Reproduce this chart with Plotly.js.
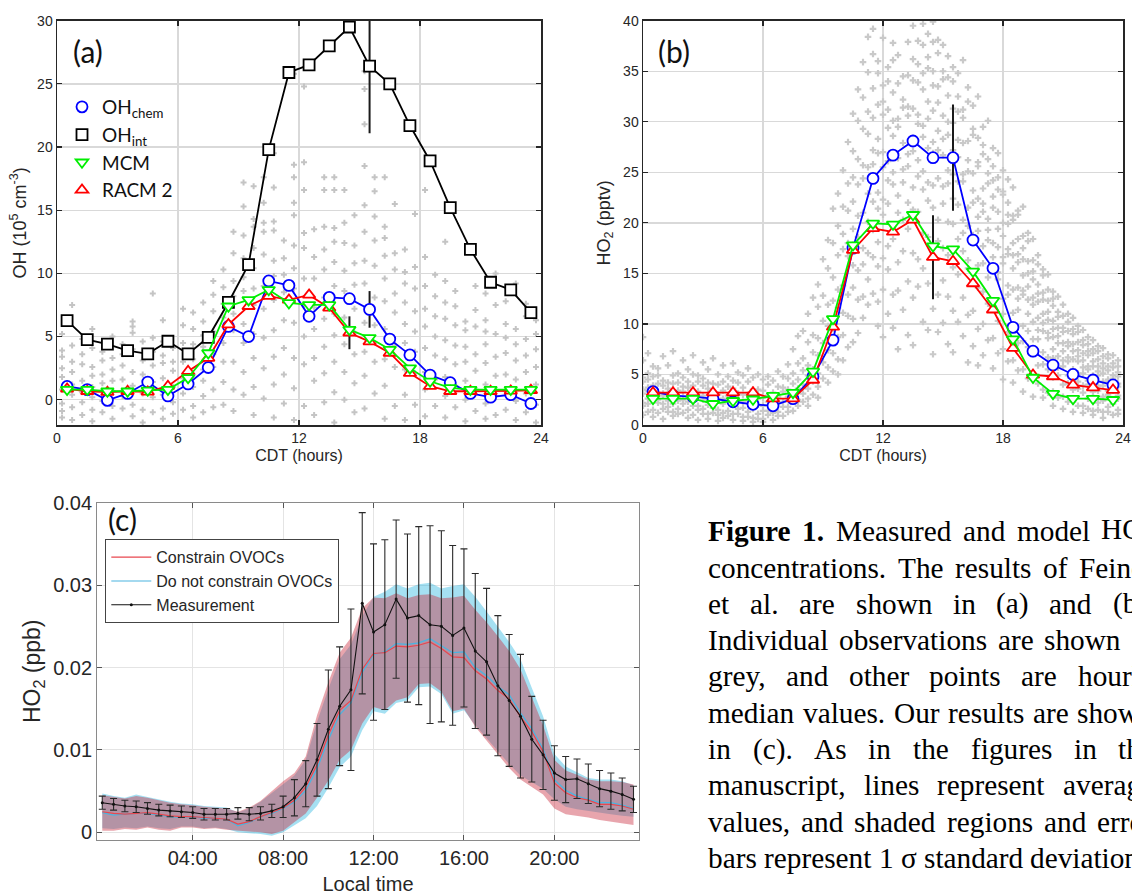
<!DOCTYPE html>
<html>
<head>
<meta charset="utf-8">
<script src="https://cdn.plot.ly/plotly-3.0.1.min.js"></script>
<style>
html,body{margin:0;padding:0;background:#fff;overflow:hidden;}
#chart{width:1132px;height:895px;}
</style>
</head>
<body>
<div id="chart"></div>
<script>
// ---------------- DATA ----------------
const hoursAB = [0.5,1.5,2.5,3.5,4.5,5.5,6.5,7.5,8.5,9.5,10.5,11.5,12.5,13.5,14.5,15.5,16.5,17.5,18.5,19.5,20.5,21.5,22.5,23.5];

// (a) OH, 10^5 cm^-3
const ohChem = [1.05,0.8,-0.05,0.5,1.4,0.3,1.25,2.55,5.8,5.0,9.4,9.05,6.6,8.1,8.0,7.15,4.8,3.55,1.95,1.35,0.5,0.2,0.4,-0.3];
const ohInt  = [6.26,4.76,4.4,3.89,3.63,4.63,3.63,4.94,7.7,10.7,19.8,25.9,26.5,28.0,29.5,26.4,25.0,21.7,18.9,15.2,11.9,9.3,8.7,6.9];
const ohMCM  = [0.8,0.8,0.67,0.67,0.74,0.8,1.73,3.7,7.4,7.9,8.7,7.66,7.5,7.5,5.55,4.9,3.97,2.5,1.46,0.94,0.8,0.8,0.8,0.8];
const ohRACM = [0.86,0.67,0.6,0.67,0.62,1.07,2.26,3.3,5.95,7.4,8.2,7.9,8.3,7.27,5.3,4.6,3.7,2.1,1.07,0.67,0.67,0.67,0.7,0.75];
const ohIntErr  = [null,null,null,null,null,null,null,null,null,null,null,null,null,null,null,5.3,null,null,null,null,null,null,null,null];
const ohChemErr = [null,null,null,null,null,null,null,null,null,null,null,null,null,null,null,1.45,null,null,null,null,null,null,null,null];
const ohRACMErr = [null,null,null,null,null,null,null,null,null,null,null,null,null,null,1.3,null,null,null,null,null,null,null,null,null];

// (a) individual OH observations (grey), grouped by time column
const greyATimes = [0.25,0.75,1.25,1.75,2.25,2.75,3.25,3.75,4.25,4.75,5.25,5.75,6.25,6.75,7.25,7.75,8.25,8.75,9.25,9.75,10.25,10.75,11.25,11.75,12.25,12.75,13.25,13.75,14.25,14.75,15.25,15.75,16.25,16.75,17.25,17.75,18.25,18.75,19.25,19.75,20.25,20.75,21.25,21.75,22.25,22.75,23.25,23.75];
const greyAValues = [
 [5.2,3.9,3.4,2.5,1.8,0.8,-0.3,-0.9,-1.4],
 [7.5,4.3,3.0,2.2,1.2,0.4,-0.6,-1.6],
 [4.8,3.6,2.8,1.5,0.6,-0.2,-1.2],
 [5.6,4.1,2.6,1.9,1.0,0.2,-0.8,-1.7],
 [3.8,3.1,2.0,1.3,-0.1,-1.0],
 [5.0,3.3,2.4,1.5,0.7,-0.5,-1.5],
 [4.4,3.6,2.7,1.6,0.3,-0.7],
 [6.2,5.8,5.3,4.0,2.2,1.1,-0.4,-1.3],
 [4.6,3.1,2.0,0.5,-0.8,-1.8],
 [8.4,4.9,3.8,2.7,1.4,0.2,-1.0],
 [6.3,4.6,3.5,2.9,1.7,0.4,-0.7,-1.5],
 [4.1,3.0,2.3,1.0,-0.2,-1.1],
 [7.2,5.9,4.5,3.0,1.7,0.5,-0.8],
 [6.9,5.6,4.4,3.2,2.0,1.0,-0.5,-1.4],
 [7.7,6.2,5.1,4.2,2.4,1.5,0.3,-1.0],
 [9.4,8.3,7.0,5.4,3.6,2.6,0.8,-0.6],
 [10.3,8.9,7.6,6.5,4.5,3.0,1.4,-0.4],
 [13.3,11.6,9.4,8.2,6.8,5.5,3.0,0.8,-0.9],
 [17.2,15.3,13.0,11.2,9.7,8.6,6.0,4.5,2.2,0.4],
 [16.9,14.3,13.7,12.0,10.4,8.8,7.5,5.2,3.3,1.0,-1.2],
 [17.6,15.6,14.0,13.3,11.5,9.0,7.2,4.9,2.5,0.1],
 [19.5,16.8,14.1,13.4,11.0,9.8,7.9,5.5,3.4,1.2,-1.4],
 [12.6,11.2,9.9,8.5,6.3,4.1,2.0,-0.3],
 [25.8,18.6,17.6,15.6,14.6,12.2,10.4,8.8,6.1,3.3,0.9,-1.6],
 [24.8,18.8,16.6,13.2,12.0,9.6,7.5,5.0,2.8,-0.5],
 [13.5,11.3,9.6,7.3,5.6,3.3,1.5,-1.2],
 [17.6,16.6,13.7,11.9,10.3,8.1,6.4,4.2,2.1,-0.2],
 [17.6,16.6,13.6,12.5,10.9,9.0,6.8,5.1,3.0,0.6,-1.8],
 [16.6,14.0,12.4,10.2,8.6,6.5,4.4,2.2,0.0],
 [14.6,12.2,10.8,9.1,7.2,5.3,3.6,1.3,-1.0],
 [26.0,24.6,21.8,18.5,15.4,13.3,11.0,9.2,6.1,3.8,1.9,-0.7],
 [17.6,16.5,14.5,12.6,10.6,8.1,5.9,3.0,0.5],
 [17.6,13.7,12.8,11.4,9.6,7.8,5.6,3.2,1.1,-1.5],
 [15.5,11.6,10.3,8.4,6.9,4.3,2.6,-0.5],
 [11.9,10.1,9.2,7.7,6.0,4.5,2.4,0.4,-1.6],
 [14.7,10.5,8.8,7.0,5.4,3.8,2.1,-0.4],
 [16.6,11.3,9.0,7.2,5.8,4.1,2.2,0.8,-1.3],
 [9.9,8.2,6.6,5.0,3.5,1.6,-0.5],
 [12.5,9.4,7.7,6.4,4.7,3.2,1.8,0.3,-1.4],
 [8.6,7.4,5.9,4.3,2.8,1.1,-0.6],
 [6.2,5.5,4.2,3.0,1.5,0.0,-1.7],
 [9.0,7.1,5.8,3.6,2.3,0.8,-0.9],
 [8.4,6.3,5.4,4.4,2.9,1.2,-0.3,-1.5],
 [10.0,7.5,5.2,3.4,1.9,0.3,-1.2],
 [7.8,6.0,4.9,3.7,2.0,0.7,-0.8],
 [9.2,5.6,4.4,3.1,1.6,-0.1,-1.6],
 [7.6,6.6,4.8,3.5,2.2,0.5,-1.0],
 [6.3,5.2,4.0,2.6,1.2,-0.4,-1.8]
];

// (b) HO2, pptv
const ho2Chem = [3.3,2.9,2.8,2.6,2.3,2.05,1.9,2.6,4.8,8.4,17.5,24.4,26.7,28.1,26.45,26.45,18.3,15.5,9.66,7.3,5.93,5.0,4.45,3.96];
const ho2MCM  = [2.6,2.6,2.6,2.1,2.4,2.55,2.9,3.2,5.3,10.5,17.8,19.95,19.85,20.8,17.7,17.4,15.2,12.3,8.5,4.7,3.1,2.6,2.6,2.5];
const ho2RACM = [3.2,3.2,3.2,3.2,3.2,3.2,2.6,2.6,4.45,9.7,17.3,19.45,19.1,20.3,16.6,16.2,14.0,11.4,7.6,4.95,4.8,3.96,3.7,3.46];
const ho2ChemErr = [null,null,null,null,null,null,null,null,null,null,null,null,null,null,null,5.25,null,null,null,null,null,null,null,null];
const ho2RACMErr = [null,null,null,null,null,null,null,null,null,null,null,null,null,null,4.15,null,null,null,null,null,null,null,null,null];

// (b) individual HO2 observations (grey)
const greyBTimes = [0,0.25,0.5,0.75,1,1.25,1.5,1.75,2,2.25,2.5,2.75,3,3.25,3.5,3.75,4,4.25,4.5,4.75,5,5.25,5.5,5.75,6,6.25,6.5,6.75,7,7.25,7.5,7.75,8,8.25,8.5,8.75,9,9.25,9.5,9.75,10,10.25,10.5,10.75,11,11.25,11.5,11.75,12,12.25,12.5,12.75,13,13.25,13.5,13.75,14,14.25,14.5,14.75,15,15.25,15.5,15.75,16,16.25,16.5,16.75,17,17.25,17.5,17.75,18,18.25,18.5,18.75,19,19.25,19.5,19.75,20,20.25,20.5,20.75,21,21.25,21.5,21.75,22,22.25,22.5,22.75,23,23.25,23.5,23.75];
const greyBValues = [
 [8.7,6.4,4.7,4.3,3.5,3.1,2.2,1.9,1.0],
 [7.1,5.1,4.5,3.7,3.4,2.6,2.1,1.3],
 [5.8,4.8,3.9,3.6,2.8,2.4,1.5,0.8],
 [5.6,4.9,4.1,3.2,2.5,2.2,1.2],
 [6.8,4.4,3.9,3.1,2.9,2.1,1.6,0.6],
 [5.9,4.2,3.6,3.1,2.4,1.8,1.3],
 [7.3,4.9,4.1,3.3,2.6,2.1,1.3,0.9],
 [5.1,4.2,3.4,2.8,2.4,1.6,1.1],
 [6.4,4.7,3.8,3.3,2.5,2.1,1.2],
 [5.5,4.3,3.7,2.7,2.3,1.5,0.7],
 [6.9,5.0,3.9,3.4,2.4,1.9,1.0],
 [4.9,4.3,3.3,2.8,1.9,1.5,0.5],
 [6.2,4.6,3.9,2.9,2.5,1.6,1.1],
 [5.5,4.2,3.6,2.5,2.0,1.1,0.6],
 [6.6,4.1,3.1,2.6,1.7,1.2],
 [5.0,4.0,3.0,2.5,1.5,1.0,0.4],
 [5.9,4.3,3.4,2.6,2.1,1.2,0.7],
 [4.8,3.8,2.9,2.4,1.4,0.9],
 [6.1,4.4,3.6,2.5,2.0,1.1,0.5],
 [5.2,4.2,3.1,2.3,1.6,1.1],
 [4.9,3.7,3.0,2.3,1.7,0.8,0.4],
 [5.6,4.3,3.0,2.4,1.3,0.8],
 [4.7,3.5,2.9,2.0,1.6,0.7,0.3],
 [5.0,3.5,2.6,2.0,1.1,0.6],
 [4.5,3.4,2.7,1.9,1.4,0.6,0.3],
 [4.8,4.0,2.9,2.3,1.4,1.0],
 [4.4,3.2,2.6,1.7,1.2,0.5],
 [5.3,3.8,2.8,2.2,1.3,0.9],
 [4.8,3.7,3.3,2.3,1.8,0.9],
 [6.0,4.6,3.5,2.8,1.8,1.3],
 [7.5,5.1,4.1,3.0,2.4,1.4],
 [8.8,6.1,4.5,3.6,2.5,1.9],
 [9.3,6.6,5.4,4.0,3.1,2.3],
 [11.0,8.2,5.9,4.9,3.6,2.6,1.9],
 [12.6,8.9,7.2,5.5,4.3,3.0],
 [13.9,11.7,8.6,6.9,5.1,3.8,2.7],
 [16.4,12.8,10.3,8.1,6.2,4.6],
 [18.3,15.5,11.9,9.8,7.4,5.7,4.2],
 [21.4,18.0,14.6,12.3,9.5,7.1,5.3],
 [22.9,19.7,16.8,13.4,11.6,8.7,6.5,5.0],
 [25.2,21.6,18.9,17.4,13.8,11.1,8.9,6.4],
 [28.0,23.9,21.2,18.0,16.7,12.9,10.8,7.7],
 [30.8,27.1,24.5,22.1,19.4,15.8,13.6,10.5,8.2],
 [33.2,30.1,26.3,23.8,20.7,18.6,15.3,12.4,9.1],
 [35.9,32.4,29.3,25.7,24.4,21.0,17.5,15.9,12.7,10.6],
 [38.4,34.9,31.0,28.8,25.5,22.9,20.1,17.0,14.4,11.9],
 [39.2,36.7,33.3,30.4,27.2,25.8,22.1,19.3,16.6,13.0],
 [36.0,34.8,31.7,28.3,26.9,23.0,21.4,18.1,15.7,12.2,9.8],
 [38.3,33.6,32.0,30.7,27.0,25.5,22.3,20.8,16.5,13.4,8.7],
 [35.4,34.0,31.2,29.4,26.1,24.2,21.9,17.7,15.4,11.0],
 [37.8,36.1,32.9,30.1,28.6,25.0,23.8,19.6,18.4,12.9,9.6],
 [36.6,33.8,30.3,29.5,26.4,22.7,21.0,16.1,13.3,7.5],
 [34.5,32.2,31.4,27.9,25.3,24.0,20.3,17.2,11.4],
 [37.9,34.6,31.5,30.6,26.8,25.6,22.0,19.4,14.2,8.9],
 [39.5,36.2,34.1,31.3,28.4,27.1,23.5,21.3,17.0,12.6,7.9],
 [38.0,35.7,33.9,30.7,29.8,26.2,24.6,21.1,16.4,13.7],
 [39.7,37.6,34.8,33.2,29.6,28.5,25.1,23.3,19.0,15.5,10.2],
 [38.7,36.4,35.3,32.0,30.3,27.4,24.0,22.2,18.6,14.0,9.4],
 [39.9,37.9,35.0,33.6,31.1,28.0,26.9,23.7,21.5,16.8,11.5,7.0],
 [38.1,36.8,33.5,31.9,29.1,27.2,24.4,20.3,18.2,12.9,9.2],
 [37.6,35.0,34.2,30.6,28.3,26.7,23.6,21.9,17.5,14.3,10.1],
 [36.5,34.4,32.6,30.0,28.7,25.2,23.9,20.1,16.8,12.7,8.0],
 [35.4,34.0,31.3,29.9,27.2,24.8,22.4,19.9,15.6,11.3,7.2],
 [34.8,32.5,31.0,28.2,26.5,24.1,21.8,18.4,14.9,10.2],
 [36.1,31.2,30.4,27.9,24.8,24.1,20.3,19.0,17.2,12.6,8.8],
 [33.4,32.0,28.1,26.2,25.1,21.5,19.7,16.3,15.5,10.9,6.2],
 [31.6,29.3,28.7,24.9,23.2,22.0,18.8,18.1,14.1,11.3,7.8],
 [32.5,28.4,26.0,25.6,22.4,20.6,19.2,15.8,13.6,9.5,5.9],
 [29.5,27.7,26.8,23.4,21.9,21.1,17.7,16.0,13.2,10.0,6.9],
 [30.1,26.3,24.9,23.9,20.4,19.3,18.3,14.6,12.0,8.4],
 [27.4,25.6,24.2,22.6,21.5,18.0,16.6,15.4,11.4,8.6,5.6],
 [26.9,24.5,23.3,21.1,19.4,17.6,15.1,14.4,10.3,7.1],
 [25.2,23.1,22.8,20.0,18.7,16.6,16.0,12.5,11.0,7.5,4.5],
 [24.3,22.0,20.8,19.9,17.4,16.9,13.8,12.9,9.2,6.3],
 [23.5,20.7,20.3,18.0,16.8,15.5,13.4,11.1,9.6,6.4,4.2],
 [21.2,20.8,18.4,16.9,16.1,13.6,12.5,11.4,8.1,5.4],
 [21.6,18.7,17.5,16.4,14.8,13.3,12.9,9.8,8.3,5.5,3.3],
 [19.0,18.2,16.2,15.0,13.7,12.4,11.0,9.3,7.7,4.6],
 [18.4,16.3,15.2,14.4,12.6,11.9,10.2,8.5,7.0,4.8,2.8],
 [16.8,15.9,13.9,13.0,12.2,10.6,9.4,8.5,5.9,4.1],
 [15.4,14.8,13.1,12.4,11.0,10.1,9.3,7.2,6.0,3.5,2.7],
 [14.9,13.4,12.3,11.2,10.4,9.1,8.6,6.7,5.5,3.2],
 [13.2,12.5,11.8,10.3,9.5,8.7,7.5,6.6,4.7,3.3,1.9],
 [12.7,11.2,10.7,9.6,8.8,8.1,6.8,5.7,4.9,2.7],
 [11.9,10.8,9.6,9.2,8.1,7.3,6.4,5.8,4.0,2.8,1.6],
 [11.0,10.2,9.3,8.2,7.8,6.7,6.3,4.9,4.1,2.3],
 [10.6,9.5,9.0,8.0,7.3,6.5,5.5,5.0,3.5,2.3,1.3],
 [9.8,9.2,8.2,7.4,6.8,6.3,5.1,4.3,3.6,1.9],
 [9.4,8.4,7.9,7.1,6.4,5.7,5.1,3.9,3.2,1.9,1.2],
 [8.7,8.0,7.3,6.9,5.8,5.5,4.4,4.0,2.6,1.6],
 [8.4,7.5,7.1,6.3,5.8,4.9,4.5,3.3,2.8,1.4,1.0],
 [7.8,7.3,6.5,5.8,5.3,4.9,3.9,3.4,2.2,1.5],
 [7.6,6.8,6.1,5.6,5.1,4.3,3.9,2.8,2.4,1.3,0.7],
 [7.0,6.6,5.8,5.4,4.5,4.3,3.4,3.0,1.8,1.3],
 [6.9,6.1,5.7,4.9,4.6,3.7,3.4,2.4,2.1,1.0],
 [6.4,5.8,5.2,4.8,4.1,3.8,2.9,2.6,1.5,1.1]
];

// (c) half-hourly, HO2 ppb
const hoursC = [0,0.5,1,1.5,2,2.5,3,3.5,4,4.5,5,5.5,6,6.5,7,7.5,8,8.5,9,9.5,10,10.5,11,11.5,12,12.5,13,13.5,14,14.5,15,15.5,16,16.5,17,17.5,18,18.5,19,19.5,20,20.5,21,21.5,22,22.5,23,23.5];
const constrainMean = [0.0025,0.0023,0.0022,0.0023,0.0024,0.0022,0.0020,0.0019,0.0019,0.0018,0.0017,0.0016,0.0010,0.0013,0.0019,0.0024,0.0030,0.0039,0.0055,0.0082,0.0118,0.0148,0.0160,0.0198,0.0217,0.0218,0.0226,0.0225,0.0227,0.0231,0.0223,0.0213,0.0212,0.0196,0.0186,0.0172,0.0162,0.0140,0.0122,0.0098,0.0060,0.0048,0.0042,0.0039,0.0034,0.0034,0.0032,0.0028];
const constrainUpper = [0.0045,0.0043,0.0041,0.0044,0.0042,0.0039,0.0036,0.0034,0.0033,0.0031,0.0030,0.0029,0.0025,0.0030,0.0038,0.0050,0.0062,0.0072,0.0092,0.0142,0.0182,0.0218,0.0236,0.0272,0.0285,0.0284,0.0290,0.0284,0.0288,0.0289,0.0284,0.0285,0.0287,0.0270,0.0255,0.0238,0.0220,0.0198,0.0165,0.0130,0.0088,0.0075,0.0070,0.0064,0.0062,0.0062,0.0061,0.0058];
const constrainLower = [0.0002,0.0002,0.0004,0.0003,0.0006,0.0003,0.0002,0.0006,0.0006,0.0004,0.0005,0.0003,0.0002,0.0001,0.0000,-0.0002,0.0002,0.0012,0.0023,0.0042,0.0063,0.0088,0.0100,0.0132,0.0152,0.0148,0.0160,0.0164,0.0180,0.0181,0.0171,0.0147,0.0150,0.0128,0.0111,0.0095,0.0078,0.0064,0.0055,0.0046,0.0029,0.0022,0.0020,0.0018,0.0015,0.0013,0.0011,0.0009];
const freeMean = [0.0024,0.0021,0.0022,0.0023,0.0023,0.0021,0.0019,0.0018,0.0019,0.0017,0.0017,0.0016,0.0008,0.0012,0.0019,0.0023,0.0029,0.0037,0.0051,0.0077,0.0112,0.0143,0.0157,0.0194,0.0216,0.0219,0.0229,0.0228,0.0230,0.0235,0.0227,0.0218,0.0219,0.0200,0.0190,0.0177,0.0167,0.0145,0.0126,0.0101,0.0064,0.0051,0.0044,0.0040,0.0036,0.0036,0.0033,0.0029];
const freeUpper = [0.0047,0.0044,0.0042,0.0046,0.0043,0.0040,0.0037,0.0035,0.0034,0.0032,0.0031,0.0030,0.0024,0.0029,0.0037,0.0048,0.0058,0.0069,0.0088,0.0134,0.0174,0.0210,0.0228,0.0262,0.0286,0.0292,0.0301,0.0296,0.0301,0.0303,0.0296,0.0299,0.0301,0.0286,0.0268,0.0250,0.0231,0.0210,0.0176,0.0141,0.0095,0.0080,0.0073,0.0066,0.0064,0.0064,0.0062,0.0057];
const freeLower = [0.0005,0.0004,0.0006,0.0005,0.0007,0.0005,0.0004,0.0007,0.0007,0.0005,0.0006,0.0004,0.0000,-0.0001,-0.0002,-0.0004,0.0000,0.0008,0.0017,0.0032,0.0054,0.0079,0.0092,0.0124,0.0147,0.0144,0.0157,0.0160,0.0176,0.0177,0.0168,0.0144,0.0148,0.0130,0.0114,0.0099,0.0083,0.0069,0.0061,0.0053,0.0040,0.0031,0.0028,0.0026,0.0024,0.0022,0.0020,0.0019];
const measMean = [0.0036,0.0034,0.0032,0.0031,0.0029,0.0027,0.0026,0.0025,0.0024,0.0022,0.0022,0.0022,0.0023,0.0022,0.0023,0.0026,0.0031,0.0042,0.0059,0.0088,0.0125,0.0153,0.0173,0.0278,0.0243,0.0252,0.0283,0.0260,0.0263,0.0252,0.0250,0.0239,0.0248,0.0220,0.0207,0.0178,0.0160,0.0141,0.0113,0.0094,0.0072,0.0064,0.0065,0.0059,0.0053,0.0050,0.0046,0.0040];
const measSD = [0.0008,0.0007,0.0007,0.0007,0.0007,0.0007,0.0007,0.0007,0.0007,0.0007,0.0007,0.0007,0.0007,0.0008,0.0008,0.0008,0.0013,0.0022,0.0028,0.0044,0.0072,0.0072,0.0098,0.0110,0.0107,0.0103,0.0096,0.0102,0.0108,0.0120,0.0116,0.0109,0.0096,0.0094,0.0089,0.0085,0.0080,0.0075,0.0052,0.0042,0.0033,0.0028,0.0024,0.0024,0.0022,0.0022,0.0020,0.0016];
const tickHoursC = [4,8,12,16,20];
const tickLabelsC = ['04:00','08:00','12:00','16:00','20:00'];

// Caption text
const captionLines = [
 'Figure 1. Measured and model HO<sub>2</sub>',
 'concentrations. The results of Feiner',
 'et al. are shown in (a) and (b).',
 'Individual observations are shown in',
 'grey, and other points are hourly',
 'median values. Our results are shown',
 'in (c). As in the figures in the',
 'manuscript, lines represent average',
 'values, and shaded regions and error',
 'bars represent 1 σ standard deviation.'
];

// ---------------- BUILD ----------------
const W = 1132, H = 895;
const px = v => v / W;
const py = v => 1 - v / H;

function flatten(times, vals){
  const x = [], y = [];
  times.forEach((t, i) => vals[i].forEach(v => { x.push(t); y.push(v); }));
  return {x, y};
}
const gA = flatten(greyATimes, greyAValues);
const gB = flatten(greyBTimes, greyBValues);

const errStyle = (arr) => ({type:'data', array:arr, visible:true, color:'#1a1a1a', thickness:2, width:0});

function seriesPair(x, y, color, symbol, name, rank, xa, ya, err, show){
  const line = {x, y, xaxis:xa, yaxis:ya, mode:'lines', type:'scatter', line:{color, width:1.8},
    showlegend:false, hoverinfo:'skip'};
  const mk = {x, y, xaxis:xa, yaxis:ya, mode:'markers', type:'scatter', name,
    marker:{symbol, size:11, color:'#ffffff', line:{color, width:1.8}},
    showlegend:show, legendrank:rank, legend:'legend', hoverinfo:'skip'};
  if (err) mk.error_y = errStyle(err);
  return [line, mk];
}

const traces = [];
// (a)
traces.push({x:gA.x, y:gA.y, xaxis:'x', yaxis:'y', mode:'markers', type:'scatter',
  marker:{symbol:'cross', size:5, color:'#c4c4c4'}, showlegend:false, hoverinfo:'skip'});
traces.push(...seriesPair(hoursAB, ohInt, '#000000', 'square', 'OH<sub>int</sub>', 2, 'x', 'y', ohIntErr, true));
traces.push(...seriesPair(hoursAB, ohChem, '#0000ff', 'circle', 'OH<sub>chem</sub>', 1, 'x', 'y', ohChemErr, true));
traces.push(...seriesPair(hoursAB, ohRACM, '#ff0000', 'triangle-up', 'RACM 2', 4, 'x', 'y', ohRACMErr, true));
traces.push(...seriesPair(hoursAB, ohMCM, '#00ee00', 'triangle-down', 'MCM', 3, 'x', 'y', null, true));
// (b)
traces.push({x:gB.x, y:gB.y, xaxis:'x2', yaxis:'y2', mode:'markers', type:'scatter',
  marker:{symbol:'cross', size:5.5, color:'#c9c9c9'}, showlegend:false, hoverinfo:'skip'});
traces.push(...seriesPair(hoursAB, ho2Chem, '#0000ff', 'circle', 'HO2 chem', 10, 'x2', 'y2', ho2ChemErr, false));
traces.push(...seriesPair(hoursAB, ho2RACM, '#ff0000', 'triangle-up', 'RACM 2 (b)', 11, 'x2', 'y2', ho2RACMErr, false));
traces.push(...seriesPair(hoursAB, ho2MCM, '#00ee00', 'triangle-down', 'MCM (b)', 12, 'x2', 'y2', null, false));
// (c) bands
const band = (up, lo) => ({x: hoursC.concat(hoursC.slice().reverse()), y: up.concat(lo.slice().reverse())});
const bFree = band(freeUpper, freeLower);
const bCon = band(constrainUpper, constrainLower);
traces.push({x:bFree.x, y:bFree.y, xaxis:'x3', yaxis:'y3', type:'scatter', mode:'lines', fill:'toself',
  fillcolor:'rgba(40,180,225,0.42)', line:{width:0}, showlegend:false, hoverinfo:'skip'});
traces.push({x:bCon.x, y:bCon.y, xaxis:'x3', yaxis:'y3', type:'scatter', mode:'lines', fill:'toself',
  fillcolor:'rgba(200,40,60,0.42)', line:{width:0}, showlegend:false, hoverinfo:'skip'});
traces.push({x:hoursC, y:freeMean, xaxis:'x3', yaxis:'y3', type:'scatter', mode:'lines', name:'Do not constrain OVOCs',
  line:{color:'#4ab4e0', width:1.2}, legend:'legend2', legendrank:2, hoverinfo:'skip'});
traces.push({x:hoursC, y:constrainMean, xaxis:'x3', yaxis:'y3', type:'scatter', mode:'lines', name:'Constrain OVOCs',
  line:{color:'#e8474f', width:1.2}, legend:'legend2', legendrank:1, hoverinfo:'skip'});
traces.push({x:hoursC, y:measMean, xaxis:'x3', yaxis:'y3', type:'scatter', mode:'lines+markers', name:'Measurement',
  line:{color:'#111111', width:1.1}, marker:{size:3, color:'#111111'},
  error_y:{type:'data', array:measSD, visible:true, color:'#2a2a2a', thickness:1.1, width:3.5},
  legend:'legend2', legendrank:3, hoverinfo:'skip'});

// axes
const tf = (s) => ({family:'Liberation Sans, Arial, sans-serif', size:s, color:'#262626'});
const axAB = {showline:true, mirror:'ticks', linecolor:'#262626', linewidth:1.5, ticks:'inside', ticklen:5,
  tickcolor:'#262626', tickwidth:1.2, showgrid:true, gridcolor:'#d9d9d9', gridwidth:1.3, zeroline:false,
  tickfont:tf(14), fixedrange:true};
const axC = {showline:true, mirror:'ticks', linecolor:'#8a8a8a', linewidth:1.2, ticks:'inside', ticklen:5,
  tickcolor:'#555555', tickwidth:1, showgrid:true, gridcolor:'#e4e4e4', gridwidth:1, zeroline:false,
  tickfont:tf(20), fixedrange:true};

// caption annotations (justified like the source paragraph)
function captionAnnotations(){
  const ctx = document.createElement('canvas').getContext('2d');
  const L = 708, R = 1154, size = 29.3, base0 = 541, lh = 36.3;
  const fam = '"Liberation Serif"';
  const out = [];
  captionLines.forEach((line, li) => {
    const words = line.split(' ');
    const isBold = wi => li === 0 && wi < 2;
    const widths = words.map((w, wi) => {
      ctx.font = (isBold(wi) ? 'bold ' : '') + size + 'px ' + fam;
      const m = w.match(/<sub>(.*?)<\/sub>/);
      let wd = ctx.measureText(w.replace(/<sub>.*?<\/sub>/, '')).width;
      if (m) { ctx.font = (size*0.7) + 'px ' + fam; wd += ctx.measureText(m[1]).width; }
      return wd;
    });
    ctx.font = size + 'px ' + fam;
    const sp = ctx.measureText(' ').width;
    const total = widths.reduce((a, b) => a + b, 0);
    const gaps = words.length - 1;
    let gap = sp;
    if (li < captionLines.length - 1) gap = Math.max(sp, (R - L - total) / gaps);
    let x = L;
    words.forEach((w, wi) => {
      if (x < W - 2) {
        out.push({xref:'paper', yref:'paper', x:px(x), y:py(base0 + li*lh - 9.8), xanchor:'left', yanchor:'middle',
          text: isBold(wi) ? '<b>' + w + '</b>' : w, showarrow:false, borderpad:0, borderwidth:0,
          font:{family:'Liberation Serif, Times New Roman, serif', size:size, color:'#000000'}});
      }
      x += widths[wi] + gap;
    });
  });
  return out;
}

const panelLabel = (t, x, y) => ({xref:'paper', yref:'paper', x:px(x), y:py(y), xanchor:'center', yanchor:'middle',
  text:t, showarrow:false, font:{family:'Lato, Carlito, sans-serif', size:30, color:'#111111'}});

const layout = {
  width:W, height:H, margin:{l:0, r:0, t:0, b:0}, paper_bgcolor:'#ffffff', plot_bgcolor:'#ffffff',
  hovermode:false, dragmode:false,
  font:{family:'Liberation Sans, Arial, sans-serif', color:'#262626'},
  xaxis:Object.assign({}, axAB, {domain:[px(57), px(541)], range:[0,24], tickvals:[0,6,12,18,24], anchor:'y',
    title:{text:'CDT (hours)', font:tf(16), standoff:4}}),
  yaxis:Object.assign({}, axAB, {domain:[py(425), py(20.7)], range:[-2,30], tickvals:[0,5,10,15,20,25,30], anchor:'x',
    title:{text:'OH (10<sup>5</sup> cm<sup>-3</sup>)', font:tf(18), standoff:6}}),
  xaxis2:Object.assign({}, axAB, {domain:[px(643), px(1123)], range:[0,24], tickvals:[0,6,12,18,24], anchor:'y2',
    title:{text:'CDT (hours)', font:tf(16), standoff:4}}),
  yaxis2:Object.assign({}, axAB, {domain:[py(425), py(20.7)], range:[0,40], tickvals:[0,5,10,15,20,25,30,35,40], anchor:'x2',
    title:{text:'HO<sub>2</sub> (pptv)', font:tf(18), standoff:8}}),
  xaxis3:Object.assign({}, axC, {domain:[px(97.3), px(638.7)], range:[-0.22,23.73], tickvals:tickHoursC, ticktext:tickLabelsC, anchor:'y3',
    title:{text:'Local time', font:tf(20), standoff:8}}),
  yaxis3:Object.assign({}, axC, {domain:[py(840), py(502.7)], range:[-0.00093,0.04], tickvals:[0,0.01,0.02,0.03,0.04],
    ticktext:['0','0.01','0.02','0.03','0.04'], anchor:'x3',
    title:{text:'HO<sub>2</sub> (ppb)', font:tf(23), standoff:6}}),
  legend:{x:px(62), y:py(88), xanchor:'left', yanchor:'top', bgcolor:'rgba(0,0,0,0)', borderwidth:0,
    font:{family:'Lato, Carlito, sans-serif', size:19, color:'#111111'}, traceorder:'normal', itemclick:false, itemdoubleclick:false},
  legend2:{x:px(105.3), y:py(539.3), xanchor:'left', yanchor:'top', bgcolor:'#ffffff', bordercolor:'#444444', borderwidth:1,
    itemwidth:40, font:{family:'Liberation Sans, Arial, sans-serif', size:16, color:'#262626'}, traceorder:'normal', itemclick:false, itemdoubleclick:false},
  annotations:[panelLabel('(a)', 88, 51), panelLabel('(b)', 674, 51), panelLabel('(c)', 122, 519)].concat(captionAnnotations())
};

Plotly.newPlot('chart', traces, layout, {staticPlot:true, displayModeBar:false});
</script>
</body>
</html>
